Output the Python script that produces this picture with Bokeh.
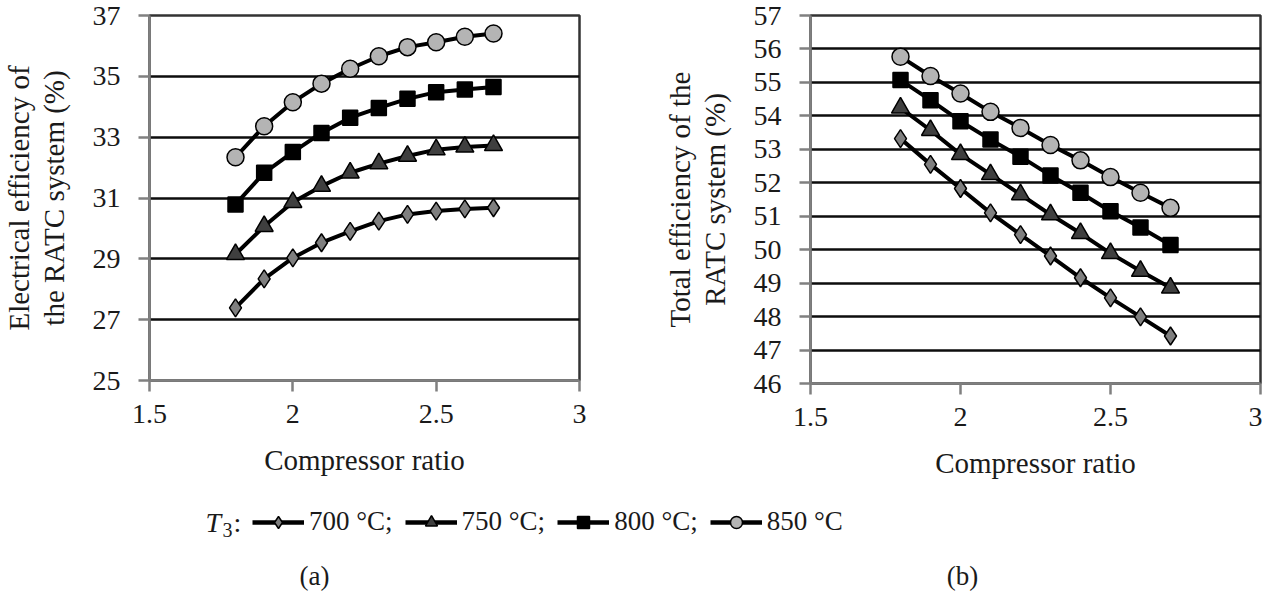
from bokeh.plotting import figure
from bokeh.layouts import column, row
from bokeh.models import Range1d, FixedTicker, NumeralTickFormatter, Legend, LegendItem, Label, Title
from bokeh.embed import file_html
from bokeh.resources import INLINE

# ---------------- data ----------------
ratio = [1.8, 1.9, 2.0, 2.1, 2.2, 2.3, 2.4, 2.5, 2.6, 2.7]

elec_700 = [27.39, 28.34, 29.03, 29.53, 29.90, 30.24, 30.46, 30.57, 30.64, 30.68]
elec_750 = [29.15, 30.07, 30.86, 31.39, 31.83, 32.13, 32.38, 32.59, 32.68, 32.73]
elec_800 = [30.79, 31.83, 32.51, 33.14, 33.64, 33.96, 34.26, 34.48, 34.57, 34.65]
elec_850 = [32.34, 33.36, 34.15, 34.76, 35.25, 35.66, 35.96, 36.12, 36.30, 36.41]

total_700 = [53.32, 52.55, 51.83, 51.10, 50.45, 49.81, 49.16, 48.56, 47.99, 47.42]
total_750 = [54.24, 53.57, 52.85, 52.25, 51.65, 51.05, 50.49, 49.89, 49.36, 48.86]
total_800 = [55.07, 54.47, 53.84, 53.29, 52.78, 52.22, 51.70, 51.15, 50.66, 50.14]
total_850 = [55.77, 55.19, 54.67, 54.12, 53.64, 53.13, 52.67, 52.17, 51.70, 51.25]

series_labels = ["700 °C;", "750 °C;", "800 °C;", "850 °C"]

x_ticks = [1.5, 2.0, 2.5, 3.0]
elec_ticks = [25, 27, 29, 31, 33, 35, 37]
total_ticks = [46, 47, 48, 49, 50, 51, 52, 53, 54, 55, 56, 57]

x_title = "Compressor ratio"
elec_title = ["Electrical efficiency of", "the RATC system (%)"]
total_title = ["Total efficiency of the", "RATC system (%)"]
captions = ["(a)", "(b)"]

# ---------------- styles ----------------
FONT = "Liberation Serif"
TXT = "#1a1a1a"
AXC = "#808080"
styles = [
    dict(marker="diamond", size=18, fill_color="#7f7f7f"),
    dict(marker="triangle", size=18, fill_color="#3f3f3f"),
    dict(marker="square", size=15, fill_color="#000000"),
    dict(marker="circle", size=17, fill_color="#b4b4b4"),
]


def make_fig(ylo, yhi, yticks, ytitle, frame_w, frame_h, b_left, b_right, b_bottom):
    p = figure(frame_width=frame_w, frame_height=frame_h,
               x_range=Range1d(1.5, 3.0), y_range=Range1d(ylo, yhi),
               output_backend="svg", toolbar_location=None,
               min_border_left=b_left, min_border_right=b_right,
               min_border_top=15, min_border_bottom=b_bottom)
    p.xaxis.ticker = FixedTicker(ticks=x_ticks)
    p.yaxis.ticker = FixedTicker(ticks=yticks)
    p.xaxis.formatter = NumeralTickFormatter(format="0.[0]")
    p.yaxis.formatter = NumeralTickFormatter(format="0")
    p.xgrid.visible = False
    p.ygrid.grid_line_color = "#0d0d0d"
    p.ygrid.grid_line_width = 2.5
    p.outline_line_color = "#333333"
    p.outline_line_width = 2.5
    p.outline_line_alpha = 1
    for ax in (p.xaxis[0], p.yaxis[0]):
        ax.axis_line_color = AXC
        ax.axis_line_width = 2.5
        ax.major_tick_line_color = AXC
        ax.major_tick_line_width = 2.5
        ax.major_tick_out = 11
        ax.major_tick_in = 0
        ax.minor_tick_line_color = None
        ax.major_label_text_font = FONT
        ax.major_label_text_font_size = "28px"
        ax.major_label_text_color = TXT
        ax.axis_label_text_font = FONT
        ax.axis_label_text_font_size = "29px"
        ax.axis_label_text_font_style = "normal"
        ax.axis_label_text_color = TXT
    p.xaxis.major_label_standoff = 13
    p.yaxis.major_label_standoff = 18
    p.xaxis.axis_label = x_title
    p.xaxis.axis_label_standoff = 18
    p.yaxis.axis_label = ytitle[1]
    p.yaxis.axis_label_standoff = 20
    p.add_layout(Title(text=ytitle[0], align="center", text_font=FONT,
                       text_font_size="29px", text_font_style="normal",
                       text_color=TXT, standoff=0, offset=0), "left")
    return p


p1 = make_fig(25, 37, elec_ticks, elec_title, 430, 365, 148, 40, 92)
p2 = make_fig(46, 57, total_ticks, total_title, 450, 368, 191, 2, 89)

for p, sets in ((p1, [elec_700, elec_750, elec_800, elec_850]),
                (p2, [total_700, total_750, total_800, total_850])):
    for vals, st in zip(sets, styles):
        p.line(ratio, vals, line_color="black", line_width=4)
        p.scatter(ratio, vals, marker=st["marker"], size=st["size"],
                  fill_color=st["fill_color"], line_color="black", line_width=1.5)

# ---------------- legend + captions ----------------
p3 = figure(width=1261, height=110, x_range=Range1d(0, 1), y_range=Range1d(0, 1),
            x_axis_type=None, y_axis_type=None, output_backend="svg",
            toolbar_location=None, min_border=0)
p3.xgrid.visible = False
p3.ygrid.visible = False
p3.outline_line_color = None

items = []
for vals, st, lab in zip([elec_700, elec_750, elec_800, elec_850], styles, series_labels):
    rl = p3.line(ratio, vals, line_color="black", line_width=4.5)
    rs = p3.scatter(ratio, vals, marker=st["marker"], size=st["size"],
                    fill_color=st["fill_color"], line_color="black", line_width=1.5)
    items.append(LegendItem(label=lab, renderers=[rl, rs]))

legend = Legend(items=items, orientation="horizontal", location=(252, 54),
                glyph_width=52, glyph_height=30, label_height=30, label_standoff=5,
                spacing=12, padding=0, margin=0, border_line_color=None,
                background_fill_alpha=0, label_text_font=FONT,
                label_text_font_size="27px", label_text_color=TXT)
p3.add_layout(legend)

p3.add_layout(Label(x=205, y=69, x_units="screen", y_units="screen", text="T",
                    text_font=FONT, text_font_size="28px", text_font_style="italic",
                    text_baseline="middle", text_color=TXT))
p3.add_layout(Label(x=222, y=62, x_units="screen", y_units="screen", text="3",
                    text_font=FONT, text_font_size="20px",
                    text_baseline="middle", text_color=TXT))
p3.add_layout(Label(x=233, y=69, x_units="screen", y_units="screen", text=":",
                    text_font=FONT, text_font_size="28px",
                    text_baseline="middle", text_color=TXT))

for cx, cap in zip([314, 962], captions):
    p3.add_layout(Label(x=cx, y=16, x_units="screen", y_units="screen", text=cap,
                        text_font=FONT, text_font_size="27px", text_align="center",
                        text_baseline="middle", text_color=TXT))

layout = column(row(p1, p2), p3)
open("out.html", "w").write(file_html(layout, INLINE))
